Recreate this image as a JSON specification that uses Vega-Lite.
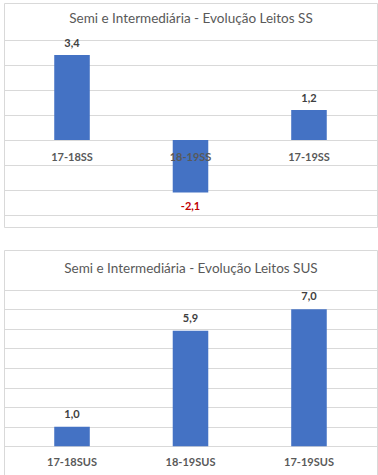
{
  "$schema": "https://vega.github.io/schema/vega-lite/v6.json",
  "padding": {"left": 3, "top": 2, "right": 2, "bottom": 2},
  "background": "white",
  "spacing": 21,
  "config": {
    "locale": {"number": {"decimal": ",", "thousands": ".", "grouping": [3], "currency": ["", ""], "minus": "-"}},
    "view": {"stroke": "#d9d9d9"},
    "font": "Lato",
    "axis": {"gridColor": "#d9d9d9"}
  },
  "vconcat": [
    {
      "width": 373,
      "height": 224,
      "data": {"values": [
        {"periodo": "17-18SS", "valor": 3.4},
        {"periodo": "18-19SS", "valor": -2.1},
        {"periodo": "17-19SS", "valor": 1.2}
      ]},
      "encoding": {
        "x": {"field": "periodo", "type": "nominal", "sort": null,
          "scale": {"paddingInner": 0.7, "paddingOuter": 0.424},
          "axis": {"zindex": 1, "title": "Semi e Intermediária - Evolução Leitos SS", "titleY": -122, "titleBaseline": "middle", "titleFontSize": 13.5, "titleFontWeight": "normal", "titleColor": "#595959",
            "domain": false, "ticks": false, "labelAngle": 0, "offset": -87, "labelPadding": 11, "labelFontSize": 11, "labelFontWeight": "bold", "labelColor": "#595959"}},
        "y": {"field": "valor", "type": "quantitative",
          "scale": {"domain": [-3.48, 5.48], "nice": false, "zero": false},
          "axis": {"title": null, "labels": false, "ticks": false, "domain": false, "values": [-3, -2, -1, 0, 1, 2, 3, 4]}}
      },
      "layer": [
        {"mark": {"type": "bar", "color": "#4472C4"}},
        {"transform": [{"filter": "datum.valor >= 0"}],
          "mark": {"type": "text", "dy": -11, "baseline": "middle", "fontSize": 11, "fontWeight": "bold", "color": "#404040"},
          "encoding": {"text": {"field": "valor", "type": "quantitative", "format": ".1f"}}},
        {"transform": [{"filter": "datum.valor < 0"}],
          "mark": {"type": "text", "dy": 14, "baseline": "middle", "fontSize": 11, "fontWeight": "bold", "color": "#C00000"},
          "encoding": {"text": {"field": "valor", "type": "quantitative", "format": ".1f"}}}
      ]
    },
    {
      "width": 373,
      "height": 226,
      "data": {"values": [
        {"periodo": "17-18SUS", "valor": 1.0},
        {"periodo": "18-19SUS", "valor": 5.9},
        {"periodo": "17-19SUS", "valor": 7.0}
      ]},
      "encoding": {
        "x": {"field": "periodo", "type": "nominal", "sort": null,
          "scale": {"paddingInner": 0.7, "paddingOuter": 0.424},
          "axis": {"zindex": 1, "title": "Semi e Intermediária - Evolução Leitos SUS", "titleY": -177.5, "titleBaseline": "middle", "titleFontSize": 13.5, "titleFontWeight": "normal", "titleColor": "#595959",
            "domain": false, "ticks": false, "labelAngle": 0, "offset": -30, "labelPadding": 10, "labelFontSize": 11, "labelFontWeight": "bold", "labelColor": "#595959"}},
        "y": {"field": "valor", "type": "quantitative",
          "scale": {"domain": [-1.515, 10.02], "nice": false, "zero": false},
          "axis": {"title": null, "labels": false, "ticks": false, "domain": false, "values": [0, 1, 2, 3, 4, 5, 6, 7, 8]}}
      },
      "layer": [
        {"mark": {"type": "bar", "color": "#4472C4"}},
        {"mark": {"type": "text", "dy": -12, "baseline": "middle", "fontSize": 11, "fontWeight": "bold", "color": "#404040"},
          "encoding": {"text": {"field": "valor", "type": "quantitative", "format": ".1f"}}}
      ]
    }
  ]
}
